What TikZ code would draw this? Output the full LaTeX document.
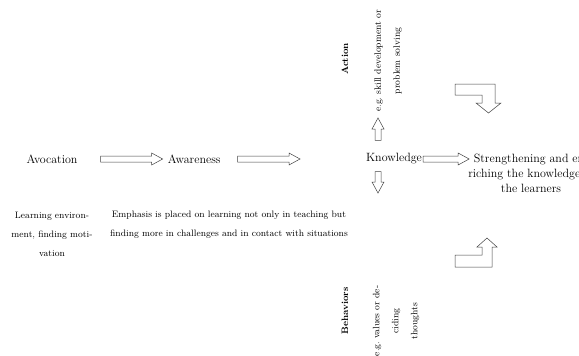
\documentclass[tikz,border=0pt]{standalone}
\usetikzlibrary{positioning,calc}

\begin{document}
\begin{tikzpicture}[
        x=1pt, y=-1pt, % one unit per pixel, downwards
        stage/.style={inner sep=1pt, font=\fontsize{12}{14}\selectfont}, % main labels
        note/.style={inner sep=1pt, align=center, font=\fontsize{9.3}{19}\selectfont}, % side texts
        hollow/.style={line width=0.5pt, draw=black!75, to path={
            ($(\tikztostart)!3pt!90:(\tikztotarget)$)
            -- ($(\tikztotarget)!11pt!(\tikztostart)!3pt!90:(\tikztotarget)$)
            -- ($(\tikztotarget)!11pt!(\tikztostart)!6pt!90:(\tikztotarget)$)
            -- (\tikztotarget)
            -- ($(\tikztotarget)!11pt!(\tikztostart)!6pt!-90:(\tikztotarget)$)
            -- ($(\tikztotarget)!11pt!(\tikztostart)!3pt!-90:(\tikztotarget)$)
            -- ($(\tikztostart)!3pt!-90:(\tikztotarget)$)
            -- cycle}}, % outlined block arrow
        bent/.style={line width=0.5pt, draw=black!75}
        ]
        \useasboundingbox (0,0) rectangle (579,356);

        % Define nodes
        \node[stage] (avocation) at (52,159) {Avocation};
        \node[stage, right=88pt of avocation] (awareness) {Awareness};
        \node[stage] (knowledge) at (394,159) {Knowledge};
        \node[stage, align=center, font=\fontsize{12}{15}\selectfont] (strengthen) at (531,173) {Strengthening and en-\\riching the knowledge of\\the learners};

        \node[note] (avodesc) at (52,234) {Learning environ-\\ment, finding moti-\\vation};
        \node[note] (emphdesc) at (229,225) {Emphasis is placed on learning not only in teaching but\\finding more in challenges and in contact with situations};

        \node[note, rotate=90, font=\fontsize{9.3}{19}\selectfont\bfseries] (action) at (345,59) {Action};
        \node[note, rotate=90] (actdesc) at (388,61) {e.g.\ skill development or\\problem solving};
        \node[note, rotate=90, font=\fontsize{9.3}{19}\selectfont\bfseries] (behaviors) at (345,311) {Behaviors};
        \node[note, rotate=90] (behdesc) at (396,321) {e.g.\ values or de-\\ciding\\thoughts};

        \coordinate (ahead) at (300,159);
        \coordinate (shead) at ([xshift=2pt]knowledge.east -| strengthen.west);
        \coordinate (uptip) at (378,118);
        \coordinate (downtip) at (378,193);

        % Draw arrows
        \draw[hollow] ([xshift=22pt]avocation.east) to ([xshift=-4pt]awareness.west);
        \draw[hollow] ([xshift=16pt]awareness.east) to (ahead);
        \draw[hollow] (knowledge.east) to (shead);
        \draw[hollow] ([xshift=-16pt,yshift=12pt]knowledge.north) to (uptip);
        \draw[hollow] ([xshift=-16pt,yshift=-6pt]knowledge.south) to (downtip);

        % Draw bent arrows
        \draw[bent] (455,84) -- (495,84) -- (495,103) -- (501,103) -- (488.5,113) -- (476,103) -- (482,103) -- (482,95) -- (455,95) -- cycle;
        \draw[bent] (455,267) -- (492,267) -- (492,247) -- (497,247) -- (487,238) -- (477,247) -- (482,247) -- (482,255) -- (455,255) -- cycle;

    \end{tikzpicture}
\end{document}
